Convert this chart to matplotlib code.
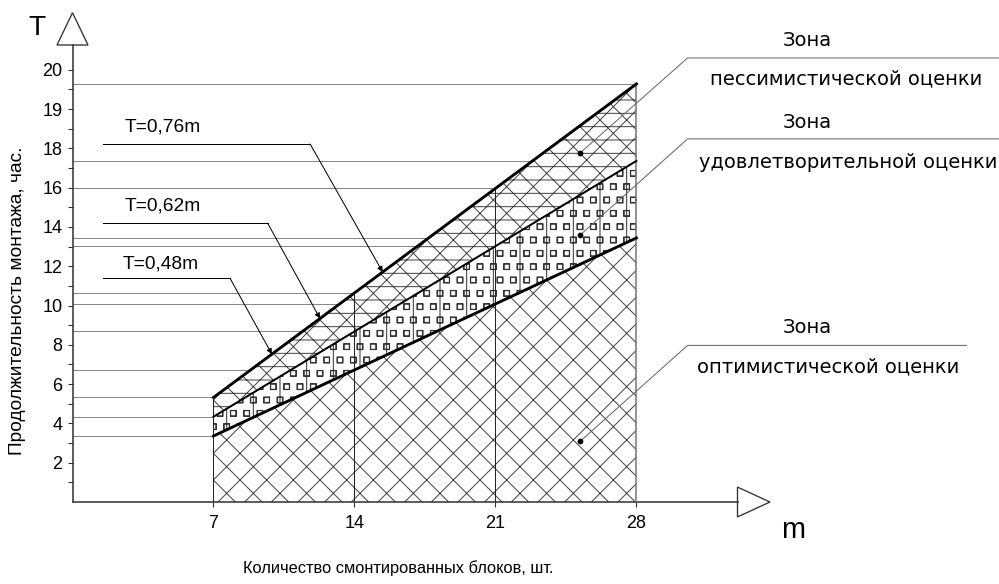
import matplotlib
matplotlib.use('Agg')
import matplotlib.pyplot as plt
import matplotlib.hatch as mhatch
from matplotlib.patches import Polygon
from matplotlib.path import Path
import numpy as np

# Values
m_blocks = [7, 14, 21, 28]                 # number of blocks
k_rates = [0.48, 0.62, 0.76]               # T = k*m lines
rate_labels = ['T=0,48m', 'T=0,62m', 'T=0,76m']
y_ticks = [2, 4, 6, 8, 10, 12, 14, 16, 18, 20, 22]
y_tick_labels = ['2', '4', '6', '8', '10', '12', '14', '16', '18', '19', '20']
zone_names = ['пессимистической оценки', 'удовлетворительной оценки', 'оптимистической оценки']

# leader positions for the T=... labels (data units)
rate_text_xy = [(4.4, 12.1), (4.5, 15.06), (4.5, 19.09)]
rate_shelf_T = [11.39, 14.19, 18.22]
rate_shelf_m = [(1.51, 7.82), (1.51, 9.69), (1.51, 11.8)]
rate_tip_m = [9.9, 12.29, 15.4]

# leader positions for the zone labels
zone_dot_m = 25.2
zone_dot_T = [17.76, 13.58, 3.08]
zone_shelf_T = [22.6, 18.48, 7.97]
zone_shelf_m = [(30.54, 46.0), (30.54, 46.0), (30.54, 44.4)]
zone_title_T = [23.47, 19.34, 8.89]
zone_name_xy = [(38.4, 21.53), (38.5, 17.3), (37.5, 6.9)]
zone_title_m = 36.5


# small hollow squares instead of circles for the 'o' hatch
class SmallSquares(mhatch.Shapes):
    size = 0.2
    filled = False

    def __init__(self, hatch, density):
        self.num_rows = hatch.count('o') * density
        self.shape_vertices = np.array([[-1.1, -1.1], [1.1, -1.1], [1.1, 1.1],
                                        [-1.1, 1.1], [-1.1, -1.1]])
        self.shape_codes = np.array([Path.MOVETO, Path.LINETO, Path.LINETO,
                                     Path.LINETO, Path.CLOSEPOLY], dtype=Path.code_type)
        super().__init__(hatch, density)


mhatch._hatch_types = [SmallSquares if t is mhatch.SmallCircles else t
                       for t in mhatch._hatch_types]

plt.rcParams['font.family'] = ['Liberation Sans', 'DejaVu Sans']
plt.rcParams['hatch.linewidth'] = 0.45

DPI = 160
fig = plt.figure(figsize=(999 / DPI, 584 / DPI), dpi=DPI)
ax = fig.add_axes([72.5 / 999, 82 / 584, 665 / 999, 457 / 584])
ax.set_xlim(0, 33.02)
ax.set_ylim(0, 23.26)

for side in ['top', 'right']:
    ax.spines[side].set_visible(False)
for side in ['left', 'bottom']:
    ax.spines[side].set_linewidth(0.7)
    ax.spines[side].set_color('#333333')

ax.set_yticks(y_ticks, labels=y_tick_labels)
ax.set_yticks(range(1, 23, 2), minor=True)
ax.set_xticks(m_blocks)
ax.tick_params(which='both', direction='out', length=2.4, width=0.5,
               color='#333333', labelsize=8.1, pad=2.2)
ax.tick_params(axis='x', pad=3.5)

m = np.array(m_blocks, dtype=float)

# grey guide lines from the T axis to each point
for k in k_rates:
    for mi in m_blocks:
        ax.plot([0, mi], [k * mi, k * mi], color='#888888', lw=0.45, zorder=1)

# zones
ax.fill_between(m, 0, k_rates[0] * m, facecolor='white', edgecolor='#444444',
                hatch='xx', lw=0, zorder=2)
ax.fill_between(m, k_rates[0] * m, k_rates[1] * m, facecolor='white',
                edgecolor='#333333', hatch='|oo', lw=0, zorder=2)
ax.fill_between(m, k_rates[1] * m, k_rates[2] * m, facecolor='white',
                edgecolor='#444444', hatch='//\\\\--', lw=0, zorder=2)

# vertical lines at each m
for mi in m_blocks[:-1]:
    ax.plot([mi, mi], [0, k_rates[2] * mi], color='#222222', lw=0.45, zorder=3)
ax.plot([m_blocks[-1]] * 2, [0, k_rates[2] * m_blocks[-1]], color='#777777', lw=0.7, zorder=3)

# boundary lines
ax.plot(m, k_rates[0] * m, color='black', lw=1.3, zorder=3)
ax.plot(m, k_rates[1] * m, color='black', lw=0.9, zorder=3)
ax.plot(m, k_rates[2] * m, color='black', lw=1.3, zorder=3)

# T=k*m labels with leaders
for i, lab in enumerate(rate_labels):
    x0, x1 = rate_shelf_m[i]
    ax.plot([x0, x1], [rate_shelf_T[i]] * 2, color='black', lw=0.45, zorder=4, clip_on=False)
    tip = rate_tip_m[i]
    ax.annotate('', xy=(tip, k_rates[2] * tip), xytext=(x1, rate_shelf_T[i]),
                arrowprops=dict(arrowstyle='-|>', color='black', lw=0.45,
                                mutation_scale=5, shrinkA=0, shrinkB=0), zorder=4)
    ax.text(rate_text_xy[i][0], rate_text_xy[i][1], lab, ha='center', va='center',
            fontsize=8.6, zorder=4)

# zone labels with leaders
for i, name in enumerate(zone_names):
    x0, x1 = zone_shelf_m[i]
    ax.plot([zone_dot_m, x0, x1], [zone_dot_T[i], zone_shelf_T[i], zone_shelf_T[i]],
            color='#666666', lw=0.45, zorder=4, clip_on=False)
    ax.plot(zone_dot_m, zone_dot_T[i], 'o', color='black', ms=1.6, zorder=5)
    ax.text(zone_title_m, zone_title_T[i], 'Зона', ha='center', va='center',
            fontsize=8.8, family=['DejaVu Sans'], clip_on=False)
    ax.text(zone_name_xy[i][0], zone_name_xy[i][1], name, ha='center', va='center',
            fontsize=8.8, family=['DejaVu Sans'], clip_on=False)

# axis arrows
ax.add_patch(Polygon([[-0.77, 23.26], [0.77, 23.26], [0, 24.9]], closed=True,
                     facecolor='white', edgecolor='#333333', lw=0.6, clip_on=False))
ax.add_patch(Polygon([[33.02, -0.76], [33.02, 0.76], [34.63, 0]], closed=True,
                     facecolor='white', edgecolor='#333333', lw=0.6, clip_on=False))

fig.text(37 / 999, 1 - 28 / 584, 'T', ha='center', va='center', fontsize=12.6)
fig.text(793 / 999, 1 - 530 / 584, 'm', ha='center', va='center', fontsize=13)
fig.text(18 / 999, 1 - 301 / 584, 'Продолжительность монтажа, час.', rotation=90,
         ha='center', va='center', fontsize=8.6)
fig.text(398 / 999, 1 - 568 / 584, 'Количество смонтированных блоков, шт.',
         ha='center', va='center', fontsize=7.4)

fig.savefig('out.png', dpi=DPI)
